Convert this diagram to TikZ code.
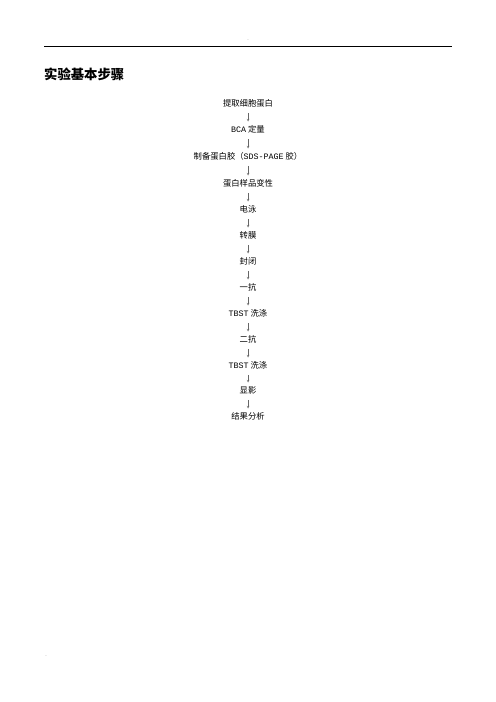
\documentclass[tikz,border=0pt]{standalone}
\usepackage{fontspec}
\setmainfont{Noto Sans CJK SC}
\setmonofont{Liberation Mono}
\usetikzlibrary{arrows}
\tikzset{
	stepnode/.style={inner sep=0pt, text height=8.5pt, text depth=1.5pt, font=\fontsize{10}{12}\selectfont},
	flow/.style={-stealth, line width=0.4pt, black!60, shorten >=5pt, shorten <=5.5pt},
	pagemark/.style={inner sep=0pt, text=black!50, font=\fontsize{5}{6}\selectfont}
}
\newcommand{\lat}[1]{{\ttfamily #1}}

\begin{document}
\begin{tikzpicture}[x=1.2pt, y=-1.2pt]
	\useasboundingbox (0,0) rectangle (496,702);
	% Header and footer
	\node[pagemark] (headmark) at (248,41) {-};
	\draw[thick] (44,46) -- (452,46);
	\node[pagemark] (footmark) at (46,657) {-};
	% Title
	\node[anchor=west, inner sep=0pt, font=\fontsize{16}{18}\selectfont\bfseries] (title) at (44,74) {实验基本步骤};
	% Steps
	\node[stepnode] (s1) at (248,104) {提取细胞蛋白};
	\node[stepnode] (s2) at (248,130) {\lat{BCA} 定量};
	\node[stepnode] (s3) at (248,157) {制备蛋白胶（\lat{SDS-PAGE} 胶）};
	\node[stepnode] (s4) at (248,184) {蛋白样品变性};
	\node[stepnode] (s5) at (248,210) {电泳};
	\node[stepnode] (s6) at (248,236) {转膜};
	\node[stepnode] (s7) at (248,262) {封闭};
	\node[stepnode] (s8) at (248,288) {一抗};
	\node[stepnode] (s9) at (248,314) {\lat{TBST} 洗涤};
	\node[stepnode] (s10) at (248,340) {二抗};
	\node[stepnode] (s11) at (248,366) {\lat{TBST} 洗涤};
	\node[stepnode] (s12) at (248,391) {显影};
	\node[stepnode] (s13) at (248,417) {结果分析};
	% Arrows
	\draw[flow] (s1) -- (s2);
	\draw[flow] (s2) -- (s3);
	\draw[flow] (s3) -- (s4);
	\draw[flow] (s4) -- (s5);
	\draw[flow] (s5) -- (s6);
	\draw[flow] (s6) -- (s7);
	\draw[flow] (s7) -- (s8);
	\draw[flow] (s8) -- (s9);
	\draw[flow] (s9) -- (s10);
	\draw[flow] (s10) -- (s11);
	\draw[flow] (s11) -- (s12);
	\draw[flow] (s12) -- (s13);
\end{tikzpicture}
\end{document}
